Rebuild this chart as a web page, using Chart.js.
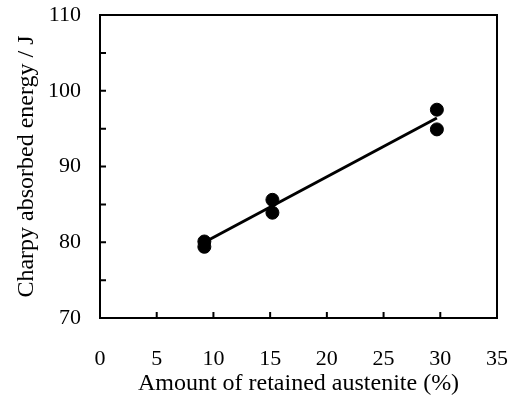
<!DOCTYPE html>
<html>
<head>
<meta charset="utf-8">
<script src="https://cdn.jsdelivr.net/npm/chart.js@4.4.0/dist/chart.umd.min.js"></script>
<style>
  html, body { margin: 0; padding: 0; background: #fff; }
  #wrap { width: 520px; height: 396px; }
</style>
</head>
<body>
<div id="wrap"><canvas id="chart"></canvas></div>
<script>
// measured points
const austenite = [9.2, 9.2, 15.2, 15.2, 29.7, 29.7];
const charpy = [80.1, 79.4, 85.6, 83.9, 97.5, 94.9];
// fitted line ends
const fitX = [9.2, 29.7];
const fitY = [80.0, 96.4];
// tick marks
const xTickMarks = [5, 10, 15, 20, 25, 30];
const yTickMarks = [75, 80, 85, 90, 95, 100, 105];

const serif = "'Liberation Serif', 'Times New Roman', serif";

// box frame + inward tick marks
const frame = {
  id: 'frame',
  afterDraw(chart) {
    const { ctx, chartArea: a, scales } = chart;
    ctx.save();
    ctx.strokeStyle = '#000';
    ctx.lineWidth = 2;
    ctx.strokeRect(a.left, a.top, a.right - a.left, a.bottom - a.top);
    ctx.beginPath();
    xTickMarks.forEach(v => {
      const x = scales.x.getPixelForValue(v);
      ctx.moveTo(x, a.bottom);
      ctx.lineTo(x, a.bottom - 6);
    });
    yTickMarks.forEach(v => {
      const y = scales.y.getPixelForValue(v);
      ctx.moveTo(a.left, y);
      ctx.lineTo(a.left + 6, y);
    });
    ctx.stroke();
    ctx.restore();
  }
};

function noPad(s) {
  s.paddingTop = 0; s.paddingBottom = 0; s.paddingLeft = 0; s.paddingRight = 0;
}

new Chart(document.getElementById('chart'), {
  type: 'scatter',
  data: {
    datasets: [
      {
        type: 'line',
        data: fitX.map((x, i) => ({ x: x, y: fitY[i] })),
        borderColor: '#000',
        borderWidth: 3,
        pointRadius: 0,
        fill: false
      },
      {
        data: austenite.map((x, i) => ({ x: x, y: charpy[i] })),
        backgroundColor: '#000',
        borderColor: '#000',
        pointRadius: 6.5
      }
    ]
  },
  options: {
    responsive: true,
    maintainAspectRatio: false,
    animation: false,
    layout: { autoPadding: false, padding: { top: 15, right: 23, left: 0, bottom: 0 } },
    plugins: { legend: { display: false }, tooltip: { enabled: false } },
    scales: {
      x: {
        type: 'linear',
        min: 0, max: 35,
        ticks: { stepSize: 5, color: '#000', font: { family: serif, size: 22 }, padding: 28, maxRotation: 0 },
        grid: { display: false, drawTicks: false },
        border: { display: false },
        title: { display: true, text: 'Amount of retained austenite (%)', color: '#000',
                 font: { family: serif, size: 24, lineHeight: 1.0 }, padding: { top: 0, bottom: 0 } },
        afterFit(s) { s.height = 78; noPad(s); }
      },
      y: {
        min: 70, max: 110,
        ticks: { stepSize: 10, color: '#000', font: { family: serif, size: 22 }, padding: 19 },
        grid: { display: false, drawTicks: false },
        border: { display: false },
        title: { display: true, text: 'Charpy absorbed energy / J', color: '#000',
                 font: { family: serif, size: 24 }, padding: { top: 12, bottom: 0 } },
        afterFit(s) { s.width = 100; noPad(s); }
      }
    }
  },
  plugins: [frame]
});
</script>
</body>
</html>
